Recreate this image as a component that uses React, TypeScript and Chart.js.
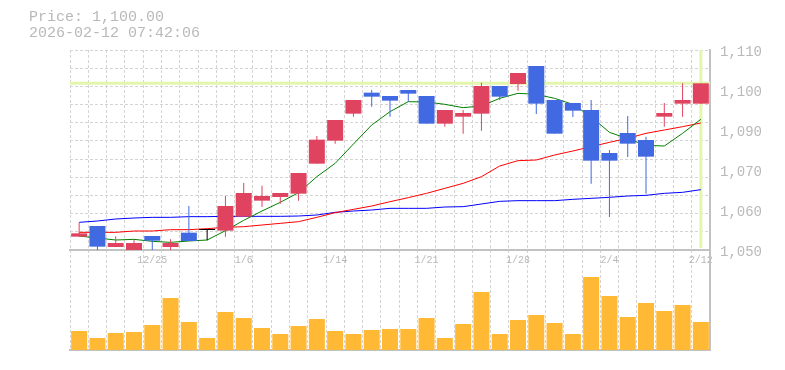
import React, { useEffect, useRef } from "react";
import { Chart, registerables } from "chart.js";

Chart.register(...registerables);

// ---------- data ----------
const dates = [
  "12/19", "12/22", "12/23", "12/24", "12/25", "12/26", "12/29", "12/30",
  "1/5", "1/6", "1/7", "1/8", "1/9", "1/13", "1/14", "1/15", "1/16",
  "1/19", "1/20", "1/21", "1/22", "1/23", "1/26", "1/27", "1/28", "1/29",
  "1/30", "2/2", "2/3", "2/4", "2/5", "2/6", "2/9", "2/10", "2/12",
];

const opens = [
  1054.0, 1057.2, 1050.9, 1050.0, 1054.2, 1050.9, 1055.2, 1056.0,
  1055.8, 1060.0, 1064.8, 1065.9, 1066.9, 1075.9, 1082.8, 1090.9, 1097.2,
  1096.2, 1098.0, 1096.2, 1087.9, 1090.0, 1090.9, 1099.2, 1099.8, 1105.2,
  1095.0, 1094.1, 1092.0, 1079.1, 1085.1, 1083.0, 1090.0, 1093.9, 1093.9,
];
const highs = [
  1058.2, 1057.2, 1054.1, 1053.2, 1054.2, 1053.2, 1063.2, 1056.0,
  1066.2, 1070.1, 1069.3, 1067.1, 1073.1, 1084.2, 1089.0, 1095.0, 1098.0,
  1096.2, 1098.0, 1096.2, 1092.0, 1092.0, 1100.2, 1099.2, 1103.1, 1105.2,
  1095.0, 1094.1, 1095.0, 1080.0, 1090.2, 1084.0, 1094.1, 1100.0, 1100.0,
];
const lows = [
  1054.0, 1050.0, 1050.9, 1050.0, 1050.0, 1050.0, 1052.7, 1052.9,
  1054.0, 1060.0, 1062.9, 1063.9, 1064.8, 1075.9, 1081.9, 1090.0, 1093.0,
  1090.0, 1094.5, 1087.9, 1087.0, 1084.9, 1085.8, 1095.0, 1097.8, 1090.8,
  1084.9, 1089.9, 1069.9, 1059.9, 1077.9, 1066.9, 1087.0, 1090.0, 1093.9,
];
const closes = [
  1055.0, 1051.0, 1052.1, 1052.1, 1052.8, 1052.1, 1052.7, 1056.0,
  1063.2, 1067.1, 1066.2, 1067.1, 1073.1, 1083.1, 1089.0, 1095.0, 1096.0,
  1094.8, 1096.9, 1087.9, 1092.0, 1091.1, 1099.2, 1096.0, 1103.1, 1093.9,
  1084.9, 1091.8, 1076.8, 1076.8, 1081.9, 1078.0, 1091.1, 1095.0, 1100.0,
];

const maShort = [
  1054.2, 1053.6, 1053.0, 1053.2, 1052.6, 1052.3, 1052.7, 1053.0,
  1055.8, 1058.9, 1061.7, 1064.3, 1067.2, 1072.0, 1076.0, 1081.8, 1087.5,
  1091.5, 1094.5, 1094.4, 1093.7, 1092.7, 1093.2, 1095.5, 1097.0, 1096.7,
  1095.5, 1093.7, 1090.0, 1085.3, 1083.4, 1081.4, 1081.2, 1085.0, 1089.2,
];
const maMid = [
  1055.3, 1055.3, 1055.3, 1055.7, 1055.7, 1056.1, 1056.1, 1056.4,
  1056.8, 1057.0, 1057.5, 1058.0, 1058.5, 1059.8, 1061.2, 1062.2, 1063.2,
  1064.5, 1065.7, 1067.0, 1068.5, 1070.0, 1072.0, 1075.2, 1076.8, 1077.0,
  1078.5, 1079.7, 1081.0, 1082.3, 1083.5, 1085.0, 1086.0, 1087.0, 1088.1,
];
const maLong = [
  1058.3, 1058.7, 1059.3, 1059.6, 1059.8, 1059.8, 1060.0, 1060.0,
  1060.1, 1060.1, 1060.1, 1060.1, 1060.2, 1060.5, 1061.3, 1061.7, 1062.0,
  1062.5, 1062.5, 1062.5, 1062.9, 1063.0, 1063.8, 1064.6, 1064.8, 1064.8,
  1064.8, 1065.2, 1065.5, 1065.8, 1066.2, 1066.4, 1067.0, 1067.3, 1068.1,
];

const volumes = [
  19000, 12000, 17000, 18000, 25000, 52000, 28000, 12000,
  38000, 32000, 22000, 16000, 24000, 31000, 19000, 16000, 20000,
  21000, 21000, 32000, 12000, 26000, 58000, 16000, 30000, 35000,
  27000, 16000, 73000, 54000, 33000, 47000, 39000, 45000, 28000,
];

const priceMin = 1050;
const priceMax = 1110;
const priceGridDivisions = 11;
const priceTickValues = [1050, 1062, 1074, 1086, 1098, 1110];
const priceTickLabels = ["1,050", "1,060", "1,070", "1,090", "1,100", "1,110"];
const volumeMax = 100000;
const currentPrice = 1100;
const headerLines = ["Price: 1,100.00", "2026-02-12 07:42:06"];

// ---------- styles ----------
const MONO = '"Liberation Mono", "DejaVu Sans Mono", monospace';
const UP = "rgb(224,67,95)";
const DOWN = "rgb(65,105,225)";
const EVEN = "#000000";
const GRID = "#d4d4d4";
const AXIS = "#c2c2c2";
const TEXT = "#b9b9b9";
const VOL = "#FFB935";
const CUR = "rgb(226,246,172)";

const candleColors = opens.map((o, i) =>
  closes[i] > o ? UP : closes[i] < o ? DOWN : EVEN
);

const gridValues = Array.from(
  { length: priceGridDivisions + 1 },
  (_, k) => priceMin + (k * (priceMax - priceMin)) / priceGridDivisions
);
const near = (a: number, b: number) => Math.abs(a - b) < 0.01;
const allPriceTicks = [...gridValues, ...priceTickValues]
  .sort((a, b) => a - b)
  .filter((v, i, arr) => i === 0 || !near(v, arr[i - 1]));

const currentPricePlugin = {
  id: "currentPrice",
  beforeDatasetsDraw(chart: any) {
    const { ctx, chartArea, scales } = chart;
    const y = scales.y.getPixelForValue(currentPrice);
    const x = scales.x.getPixelForValue(dates.length - 1);
    ctx.save();
    ctx.strokeStyle = CUR;
    ctx.lineWidth = 3;
    ctx.beginPath();
    ctx.moveTo(chartArea.left, y);
    ctx.lineTo(chartArea.right, y);
    ctx.moveTo(x, scales.y.top);
    ctx.lineTo(x, scales.y.bottom - 2);
    ctx.stroke();
    ctx.restore();
  },
};

export default function App() {
  const canvasRef = useRef<HTMLCanvasElement | null>(null);

  useEffect(() => {
    if (!canvasRef.current) return;
    const chart = new Chart(canvasRef.current, {
      type: "bar",
      data: {
        labels: dates,
        datasets: [
          {
            type: "line",
            label: "MA short",
            data: maShort,
            borderColor: "#008000",
            borderWidth: 1,
            pointRadius: 0,
            tension: 0,
            yAxisID: "y",
            order: 10,
          },
          {
            type: "line",
            label: "MA mid",
            data: maMid,
            borderColor: "#ff0000",
            borderWidth: 1,
            pointRadius: 0,
            tension: 0,
            yAxisID: "y",
            order: 11,
          },
          {
            type: "line",
            label: "MA long",
            data: maLong,
            borderColor: "#0000ff",
            borderWidth: 1,
            pointRadius: 0,
            tension: 0,
            yAxisID: "y",
            order: 12,
          },
          {
            type: "bar",
            label: "wick",
            data: dates.map((_, i) => [lows[i], highs[i]]),
            backgroundColor: candleColors,
            barThickness: 1,
            grouped: false,
            inflateAmount: 0,
            yAxisID: "y",
            order: 2,
          },
          {
            type: "bar",
            label: "body",
            data: dates.map((_, i) => [opens[i], closes[i]]),
            backgroundColor: candleColors,
            barThickness: 16,
            grouped: false,
            minBarLength: 1,
            inflateAmount: 0,
            yAxisID: "y",
            order: 1,
          },
          {
            type: "bar",
            label: "volume",
            data: volumes,
            backgroundColor: VOL,
            barThickness: 16,
            grouped: false,
            inflateAmount: 0,
            yAxisID: "yVol",
            order: 3,
          },
        ],
      } as any,
      options: {
        animation: false,
        responsive: false,
        maintainAspectRatio: false,
        events: [],
        layout: { padding: { left: 70, top: 50, right: 0, bottom: 0 } },
        plugins: {
          legend: { display: false },
          tooltip: { enabled: false },
        },
        scales: {
          x: {
            type: "category",
            position: "bottom",
            offset: true,
            grid: { offset: true, color: GRID, lineWidth: 1, drawTicks: false },
            border: { display: true, color: AXIS, width: 2, dash: [3, 2] },
            ticks: { display: false },
            afterFit: (s: any) => {
              s.height = 20;
            },
          },
          xLab: {
            type: "category",
            axis: "x",
            position: { y: priceMin },
            offset: true,
            grid: { display: false, offset: true, drawTicks: false },
            border: { display: true, color: AXIS, width: 2 },
            ticks: {
              autoSkip: false,
              maxRotation: 0,
              padding: 4,
              color: TEXT,
              font: { family: MONO, size: 10 },
              callback: (_v: any, i: number) => (i % 5 === 4 ? dates[i] : ""),
            },
          },
          y: {
            type: "linear",
            position: "right",
            stack: "panels",
            stackWeight: 2,
            min: priceMin,
            max: priceMax,
            afterBuildTicks: (s: any) => {
              s.ticks = allPriceTicks.map((v) => ({ value: v }));
            },
            grid: {
              color: (c: any) =>
                c.tick && gridValues.some((g) => near(g, c.tick.value))
                  ? GRID
                  : "rgba(0,0,0,0)",
              lineWidth: 1,
              drawTicks: false,
            },
            border: { display: true, color: AXIS, width: 2, dash: [3, 2] },
            ticks: {
              autoSkip: false,
              padding: 10,
              labelOffset: 2,
              color: TEXT,
              font: { family: MONO, size: 14 },
              callback: (v: any) => {
                const idx = priceTickValues.findIndex((t) => near(t, Number(v)));
                return idx >= 0 ? priceTickLabels[idx] : "";
              },
            },
            afterFit: (s: any) => {
              s.width = 75;
            },
          },
          yVol: {
            type: "linear",
            position: "right",
            stack: "panels",
            stackWeight: 1,
            min: 0,
            max: volumeMax,
            grid: { display: false, drawTicks: false },
            border: { display: true, color: AXIS, width: 2 },
            ticks: { display: false },
            afterFit: (s: any) => {
              s.width = 75;
            },
          },
        },
      } as any,
      plugins: [currentPricePlugin],
    });
    return () => chart.destroy();
  }, []);

  return (
    <div
      style={{
        position: "fixed",
        left: 0,
        top: 0,
        width: 785,
        height: 370,
        background: "#ffffff",
      }}
    >
      <canvas
        ref={canvasRef}
        width={785}
        height={370}
        style={{ display: "block", width: 785, height: 370 }}
      />
      <div
        style={{
          position: "absolute",
          left: 29,
          top: 10,
          fontFamily: MONO,
          fontSize: 15,
          lineHeight: "16px",
          color: TEXT,
          whiteSpace: "pre",
        }}
      >
        {headerLines.map((l) => (
          <div key={l}>{l}</div>
        ))}
      </div>
    </div>
  );
}
